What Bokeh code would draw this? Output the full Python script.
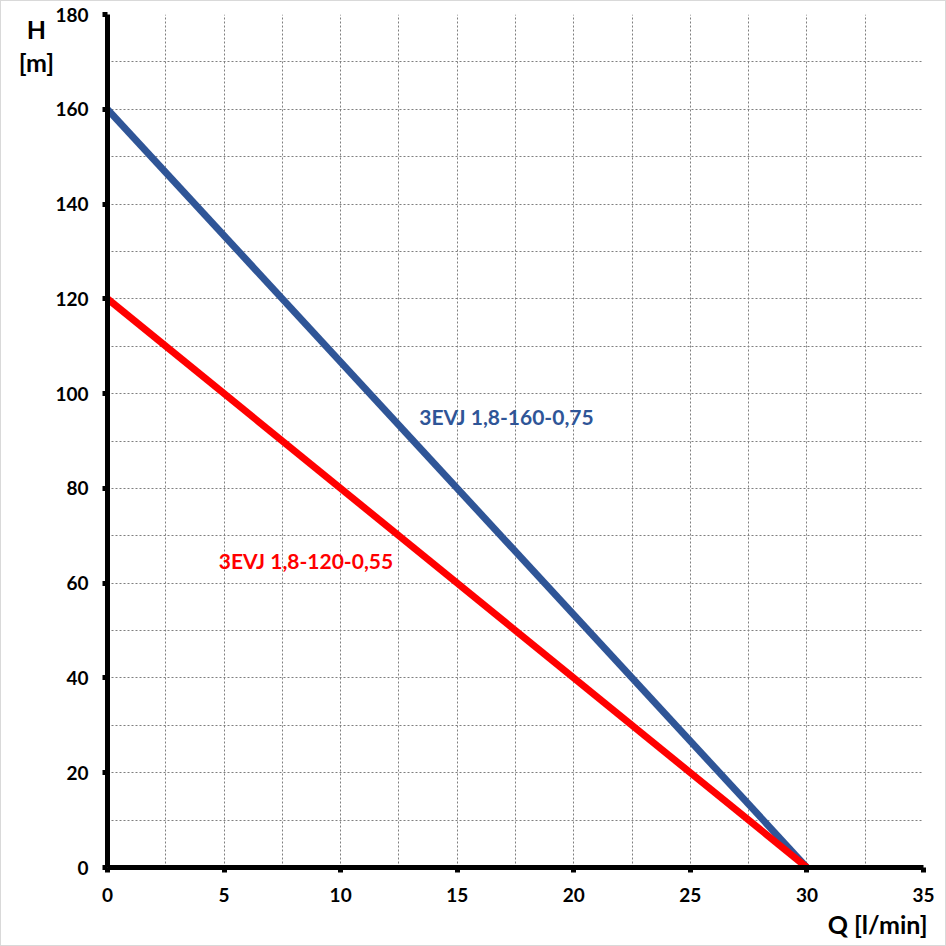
from bokeh.plotting import figure
from bokeh.models import Range1d, FixedTicker, Label
from bokeh.embed import file_html
from bokeh.resources import INLINE

# data
q = [0, 30]
h_160 = [160, 0]
h_120 = [120, 0]
x_ticks = [0, 5, 10, 15, 20, 25, 30, 35]
y_ticks = [0, 20, 40, 60, 80, 100, 120, 140, 160, 180]
x_grid = [0, 2.5, 5, 7.5, 10, 12.5, 15, 17.5, 20, 22.5, 25, 27.5, 30, 32.5, 35]
y_grid = [0, 10, 20, 30, 40, 50, 60, 70, 80, 90, 100, 110, 120, 130, 140, 150, 160, 170, 180]
name_160 = "3EVJ 1,8-160-0,75"
name_120 = "3EVJ 1,8-120-0,55"

FONT = "Lato"
BLUE = "#2F5597"
RED = "#FF0000"

p = figure(width=946, height=946, output_backend="svg", toolbar_location=None,
           x_range=Range1d(0, 35), y_range=Range1d(0, 180),
           min_border_left=106, min_border_right=24, min_border_top=13, min_border_bottom=80)
p.styles = {"position": "absolute", "left": "0px", "top": "0px",
            "box-sizing": "border-box", "border": "1px solid #d9d9d9"}
p.outline_line_color = None

for g, t in ((p.xgrid, x_grid), (p.ygrid, y_grid)):
    g.ticker = FixedTicker(ticks=t)
    g.grid_line_color = "#7f7f7f"
    g.grid_line_dash = "2 2"
    g.grid_line_width = 1

for ax, t in ((p.xaxis, x_ticks), (p.yaxis, y_ticks)):
    ax.ticker = FixedTicker(ticks=t)
    ax.axis_line_width = 5
    ax.axis_line_color = "black"
    ax.major_tick_line_width = 5
    ax.major_tick_in = 0
    ax.major_tick_out = 5
    ax.minor_tick_line_color = None
    ax.major_label_text_font = FONT
    ax.major_label_text_font_style = "bold"
    ax.major_label_text_font_size = "19px"
    ax.major_label_text_color = "black"
p.yaxis.major_label_standoff = 14
p.xaxis.major_label_standoff = 15

p.line(q, h_160, line_color=BLUE, line_width=7)
p.line(q, h_120, line_color=RED, line_width=7)

p.add_layout(Label(x=13.37, y=95.2, text=name_160, text_color=BLUE, text_font=FONT,
                   text_font_style="bold", text_font_size="21px", text_baseline="middle"))
p.add_layout(Label(x=4.77, y=64.7, text=name_120, text_color=RED, text_font=FONT,
                   text_font_style="bold", text_font_size="21px", text_baseline="middle"))

for txt, cx, cy, align, side in (("H\n[m]", 34, 43, "center", "left"),
                                 ("Q [l/min]", 925, 921, "right", "below")):
    p.add_layout(Label(x=cx, y=cy, x_units="canvas", y_units="canvas", text=txt,
                       text_font=FONT, text_font_style="bold", text_font_size="25px",
                       text_line_height=1.08,
                       text_color="black", text_align=align, text_baseline="middle"), side)

open("out.html", "w").write(file_html(p, INLINE))
